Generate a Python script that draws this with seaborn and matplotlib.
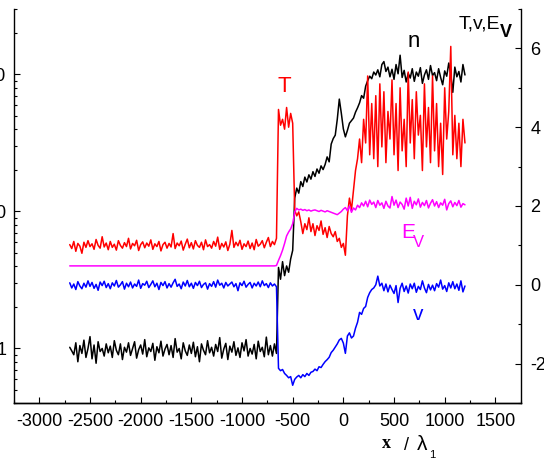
import numpy as np
import pandas as pd
import matplotlib
matplotlib.use("Agg")
import matplotlib.pyplot as plt
import seaborn as sns
from matplotlib.ticker import FixedLocator, MultipleLocator, LogLocator, FuncFormatter, NullFormatter

# ---------------- data ----------------
X_START, X_END, X_STEP = -2700, 1200, 20
x_pos = np.arange(X_START, X_END + 1, X_STEP)

# density n (left, log axis)
n_vals = [
    1.02, 0.96, 0.90, 1.10, 0.80, 1.05, 0.92, 1.15, 0.86, 1.00,
    1.22, 0.84, 1.06, 0.78, 1.12, 0.95, 1.00, 0.88, 1.08, 0.93,
    1.04, 0.86, 1.14, 0.97, 0.90, 1.08, 0.83, 1.02, 0.94, 1.10,
    0.89, 1.00, 1.12, 0.85, 0.98, 1.06, 0.91, 1.16, 0.87, 1.01,
    0.95, 1.09, 0.82, 1.03, 0.93, 1.13, 0.88, 0.99, 1.07, 0.90,
    1.05, 0.86, 1.18, 0.94, 1.00, 0.84, 1.10, 0.96, 0.89, 1.06,
    0.92, 1.11, 0.87, 1.03, 0.80, 1.08, 0.97, 0.90, 1.14, 0.93,
    1.02, 0.88, 1.07, 0.95, 1.20, 0.85, 0.99, 1.09, 0.83, 1.04,
    0.94, 1.12, 0.89, 1.01, 0.86, 1.10, 0.96, 1.16, 0.88, 1.00,
    0.91, 1.07, 0.84, 1.13, 0.95, 1.02, 0.87, 1.21, 0.90, 1.05,
    0.88, 1.08, 0.92, 3.9, 3.2, 4.3, 3.4, 4.0, 3.6, 4.5,
    5.2, 12.5, 14.8, 13.6, 16.5, 15.2, 17.8, 16.4, 18.5, 17.2,
    19.5, 18.0, 20.4, 19.0, 21.5, 20.2, 22.0, 25.0, 23.0, 31.0,
    34, 36, 47, 66, 52, 40, 35, 39, 44, 46,
    48, 53, 57, 62, 70, 67, 82, 90, 97, 93,
    104, 99, 108, 96, 118, 124, 105, 113, 96, 109,
    92, 118, 101, 138, 95, 107, 88, 102, 94, 110,
    89, 104, 97, 112, 86, 99, 108, 92, 116, 98,
    103, 90, 110, 95, 84, 106, 97, 121, 100, 74,
    113, 96, 105, 88, 118, 99,
]

# temperature T (right axis)
T_vals = [
    1.02, 0.92, 1.10, 0.85, 1.05, 0.98, 0.80, 1.08, 0.95, 1.12,
    0.97, 1.04, 0.90, 1.15, 1.00, 0.93, 1.22, 0.96, 1.06, 0.89,
    1.10, 0.95, 1.03, 0.88, 1.12, 1.00, 0.93, 1.07, 0.97, 1.18,
    0.91, 1.05, 0.99, 1.13, 0.87, 1.02, 1.09, 0.94, 1.06, 0.98,
    1.14, 0.90, 1.04, 0.97, 1.10, 0.86, 1.02, 1.08, 0.93, 1.05,
    0.96, 1.30, 0.92, 1.06, 0.99, 1.11, 0.88, 1.03, 1.16, 0.94,
    1.07, 0.91, 1.12, 1.00, 0.95, 1.08, 0.89, 1.14, 0.97, 1.02,
    0.93, 1.10, 0.98, 1.21, 0.90, 1.05, 0.96, 1.09, 0.87, 1.03,
    1.38, 0.95, 1.08, 0.99, 1.13, 0.90, 1.04, 0.97, 1.11, 0.92,
    1.06, 0.89, 1.15, 0.98, 1.03, 1.12, 0.94, 1.08, 1.20, 0.97,
    1.10, 1.02, 1.18, 4.45, 4.05, 4.20, 3.95, 4.50, 4.00, 4.35,
    4.10, 1.90, 1.75, 1.85, 1.60, 1.30, 1.55, 1.40, 1.70, 1.35,
    1.55, 1.25, 1.50, 1.38, 1.62, 1.28, 1.45, 1.20, 1.48, 1.30,
    1.22, 1.35, 1.10, 1.18, 0.95, 1.05, 0.75, 1.75, 2.20, 1.90,
    2.40, 2.90, 3.20, 3.70, 3.10, 4.20, 3.60, 5.30, 3.30, 4.60,
    3.20, 4.80, 3.00, 5.10, 3.50, 4.90, 3.10, 4.40, 3.70, 5.20,
    3.30, 4.60, 2.90, 5.00, 3.40, 4.20, 3.00, 5.40, 3.60, 4.70,
    3.20, 4.90, 3.80, 4.30, 2.90, 5.10, 3.50, 4.50, 3.10, 5.30,
    3.40, 4.60, 3.00, 4.10, 2.80, 5.00, 3.70, 4.40, 6.05, 3.30,
    4.30, 3.20, 4.10, 3.00, 4.20, 3.60,
]

# E_v (right axis)
Ev_vals = [
    0.48, 0.48, 0.48, 0.48, 0.48, 0.48, 0.48, 0.48, 0.48, 0.48,
    0.48, 0.48, 0.48, 0.48, 0.48, 0.48, 0.48, 0.48, 0.48, 0.48,
    0.48, 0.48, 0.48, 0.48, 0.48, 0.48, 0.48, 0.48, 0.48, 0.48,
    0.48, 0.48, 0.48, 0.48, 0.48, 0.48, 0.48, 0.48, 0.48, 0.48,
    0.48, 0.48, 0.48, 0.48, 0.48, 0.48, 0.48, 0.48, 0.48, 0.48,
    0.48, 0.48, 0.48, 0.48, 0.48, 0.48, 0.48, 0.48, 0.48, 0.48,
    0.48, 0.48, 0.48, 0.48, 0.48, 0.48, 0.48, 0.48, 0.48, 0.48,
    0.48, 0.48, 0.48, 0.48, 0.48, 0.48, 0.48, 0.48, 0.48, 0.48,
    0.48, 0.48, 0.48, 0.48, 0.48, 0.48, 0.48, 0.48, 0.48, 0.48,
    0.48, 0.48, 0.48, 0.48, 0.48, 0.48, 0.48, 0.48, 0.48, 0.48,
    0.48, 0.48, 0.49, 0.62, 0.74, 0.88, 1.05, 1.24, 1.34, 1.42,
    1.55, 1.85, 1.94, 1.90, 1.92, 1.89, 1.91, 1.88, 1.90, 1.87,
    1.89, 1.90, 1.88, 1.86, 1.89, 1.87, 1.85, 1.88, 1.86, 1.84,
    1.82, 1.80, 1.78, 1.82, 1.86, 1.92, 1.96, 1.88, 2.00, 1.84,
    1.95, 1.90, 2.02, 1.96, 2.08, 2.00, 2.12, 1.98, 2.15, 2.04,
    2.10, 1.96, 2.14, 2.02, 2.08, 1.94, 2.12, 2.00, 1.95, 2.24,
    2.02, 2.15, 1.96, 2.10, 2.04, 1.92, 2.20, 2.00, 2.22, 1.94,
    2.12, 2.03, 2.18, 1.97, 2.09, 2.01, 2.14, 1.95, 2.07, 2.16,
    2.00, 2.11, 1.96, 2.08, 2.02, 2.17, 1.90, 2.06, 2.13, 1.98,
    2.09, 2.01, 2.14, 1.97, 2.06, 2.03,
]

# velocity v (right axis)
v_vals = [
    0.05, -0.08, 0.02, -0.12, 0.08, -0.03, -0.10, 0.04, -0.06, 0.10,
    -0.04, 0.06, -0.09, 0.01, -0.14, 0.07, -0.02, 0.09, -0.07, 0.03,
    -0.10, 0.05, -0.03, 0.11, -0.06, 0.00, 0.08, -0.11, 0.04, -0.05,
    0.07, -0.08, 0.02, -0.04, 0.12, -0.09, 0.03, -0.01, 0.09, -0.07,
    0.01, 0.10, -0.05, 0.04, -0.12, 0.06, -0.02, 0.08, -0.08, 0.03,
    -0.06, 0.05, 0.14, -0.04, 0.02, -0.10, 0.07, -0.03, 0.11, -0.05,
    0.04, -0.09, 0.06, -0.02, 0.09, -0.07, 0.01, 0.05, -0.11, 0.03,
    -0.04, 0.08, -0.06, 0.12, -0.01, 0.04, -0.08, 0.06, -0.03, 0.02,
    0.07, -0.05, 0.03, -0.15, 0.05, -0.02, 0.09, -0.06, 0.01, 0.06,
    -0.08, 0.04, -0.03, 0.07, -0.05, 0.10, -0.02, 0.03, -0.07, 0.05,
    -0.03, 0.02, -0.05, -2.12, -2.18, -2.15, -2.25, -2.30, -2.36, -2.33,
    -2.55, -2.40, -2.34, -2.30, -2.36, -2.28, -2.33, -2.25, -2.30, -2.22,
    -2.20, -2.14, -2.18, -2.08, -2.10, -2.02, -1.95, -1.90, -1.84, -1.72,
    -1.66, -1.58, -1.50, -1.40, -1.36, -1.48, -1.74, -1.30, -1.22, -1.35,
    -1.30, -1.10, -0.95, -0.70, -0.75, -0.60, -0.55, -0.32, -0.20, -0.12,
    -0.08, 0.00, 0.22, -0.03, 0.04, -0.15, 0.02, -0.18, -0.01, -0.12,
    -0.22, -0.02, -0.45, -0.09, 0.04, -0.17, -0.03, -0.21, 0.02, -0.10,
    0.04, -0.19, -0.04, -0.12, 0.10, -0.08, -0.20, 0.01, -0.13, -0.01,
    -0.15, 0.03, -0.06, 0.12, -0.11, -0.02, -0.17, 0.05, -0.08, 0.08,
    -0.10, 0.02, -0.14, 0.10, -0.18, -0.03,
]

x_major = [-3000, -2500, -2000, -1500, -1000, -500, 0, 500, 1000, 1500]
left_major = [1, 10, 100]
right_major = [-2, 0, 2, 4, 6]

df = pd.DataFrame({"x": x_pos, "n": n_vals, "T": T_vals, "Ev": Ev_vals, "v": v_vals})

# ---------------- figure ----------------
sns.set_theme(style="white")
plt.rcParams["font.family"] = ["Liberation Sans", "DejaVu Sans"]
plt.rcParams["axes.unicode_minus"] = False

W, H = 544, 459
fig = plt.figure(figsize=(W / 100, H / 100), dpi=100)
L, R, B, TOP = 14, 520.7, 403, 9
ax = fig.add_axes([L / W, 1 - B / H, (R - L) / W, (B - TOP) / H])
ax.patch.set_visible(False)
ax2 = ax.twinx()

lw = 1.1
sns.lineplot(data=df, x="x", y="n", ax=ax, color="black", linewidth=lw, estimator=None, sort=False)
sns.lineplot(data=df, x="x", y="T", ax=ax2, color="#ff0000", linewidth=lw, estimator=None, sort=False)
sns.lineplot(data=df, x="x", y="Ev", ax=ax2, color="#ff00ff", linewidth=lw, estimator=None, sort=False)
sns.lineplot(data=df, x="x", y="v", ax=ax2, color="#0000ff", linewidth=lw, estimator=None, sort=False)

ax.set_yscale("log")
ax.set_xlim(-3250, 1750)
ax.set_ylim(0.4, 300)
ax2.set_ylim(-3, 7)

ax.xaxis.set_major_locator(FixedLocator(x_major))
ax.xaxis.set_minor_locator(MultipleLocator(250))
ax.yaxis.set_major_locator(FixedLocator(left_major))
ax.yaxis.set_minor_locator(LogLocator(base=10, subs=(2, 3, 4, 5, 6, 7, 8, 9)))
ax.yaxis.set_major_formatter(FuncFormatter(lambda val, p: f"{val:g}"))
ax.yaxis.set_minor_formatter(NullFormatter())
ax2.yaxis.set_major_locator(FixedLocator(right_major))
ax2.yaxis.set_minor_locator(MultipleLocator(1))

for a in (ax, ax2):
    a.set_xlabel("")
    a.set_ylabel("")
    a.spines["top"].set_visible(False)
    for s in a.spines.values():
        s.set_color("black")
        s.set_linewidth(1.0)
ax.spines["right"].set_visible(False)
ax2.spines["left"].set_visible(False)

tick_kw = dict(direction="in", color="black", width=0.8)
ax.tick_params(axis="x", which="major", bottom=True, length=4.5, pad=7.5, labelsize=13, **tick_kw)
ax.tick_params(axis="x", which="minor", bottom=True, length=2.5, **tick_kw)
ax.tick_params(axis="y", which="major", left=True, right=False, length=4.5, pad=5.5, labelsize=13, **tick_kw)
ax.tick_params(axis="y", which="minor", left=True, right=False, length=2.5, **tick_kw)
ax2.tick_params(axis="y", which="major", right=True, left=False, length=4.5, pad=7.0, labelsize=13, **tick_kw)
ax2.tick_params(axis="y", which="minor", right=True, left=False, length=2.5, **tick_kw)
for lab in ax.get_xticklabels() + ax.get_yticklabels() + ax2.get_yticklabels():
    lab.set_color("black")


def ftext(px, py, s, **kw):
    fig.text(px / W, 1 - py / H, s, **kw)


# curve labels
ftext(278, 91.7, "T", color="#ff0000", fontsize=16, ha="left", va="baseline")
ftext(408, 46.7, "n", color="black", fontsize=16, ha="left", va="baseline")
ftext(413, 320, "v", color="#0000ff", fontsize=15, ha="left", va="baseline")
ftext(401, 238.3, "E", color="#ff00ff", fontsize=15, ha="left", va="baseline")
ftext(413, 246.7, "V", color="#ff00ff", fontsize=12, ha="left", va="baseline")
# right axis title
ftext(500, 28.3, "T,v,E", color="black", fontsize=14, ha="right", va="baseline")
ftext(500, 36.7, "V", color="black", fontsize=13, fontweight="bold", ha="left", va="baseline")
# x axis label
ftext(382, 448, "x", color="black", fontsize=13, fontweight="bold", family="Liberation Serif",
      ha="left", va="baseline")
ftext(404, 450, "/", color="black", fontsize=13, ha="left", va="baseline")
ftext(417, 450, "λ", color="black", fontsize=15, ha="left", va="baseline")
ftext(429.5, 457.5, "1", color="black", fontsize=8, ha="left", va="baseline")

fig.savefig("out.png", dpi=100)
